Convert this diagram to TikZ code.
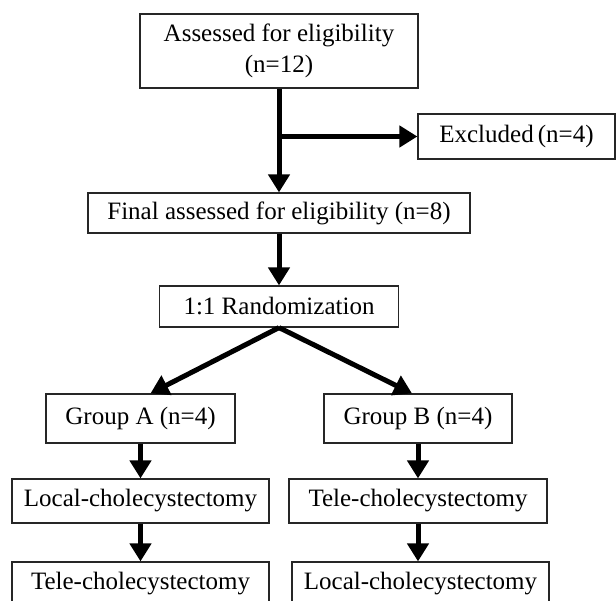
\documentclass[tikz,border=0pt]{standalone}
\usepackage{fontspec}
\setmainfont{Liberation Serif}
\usetikzlibrary{arrows.meta}
\begin{document}
\begin{tikzpicture}[x=1pt,y=-1pt]
      \tikzstyle{box}=[draw=black!85,line width=1.2pt,inner sep=0pt,align=center,font=\fontsize{25}{31}\selectfont]
      \tikzstyle{arr}=[line width=5pt,-{Triangle[length=18pt,width=21pt]}]
      \useasboundingbox (0,0) rectangle (616,601);
      \clip (0,0) rectangle (616,601);
      \node[box,minimum width=278pt,minimum height=74pt] at (279,51) (assess) {Assessed for eligibility\\(n=12)};
      \node[box,minimum width=197pt,minimum height=45pt] at (516.5,136.5) (excl) {Excluded\,(n=4)};
      \node[box,minimum width=382pt,minimum height=40pt] at (279,213) (final) {Final assessed for eligibility (n=8)};
      \node[box,minimum width=239pt,minimum height=41pt] at (279,306.5) (rand) {1:1 Randomization};
      \node[box,minimum width=189pt,minimum height=49pt] at (140.5,418.5) (grpA) {Group A (n=4)};
      \node[box,minimum width=188pt,minimum height=49pt] at (418,418.5) (grpB) {Group B (n=4)};
      \node[box,minimum width=257pt,minimum height=44pt] at (140.5,501) (localA) {Local-cholecystectomy};
      \node[box,minimum width=258pt,minimum height=44pt] at (418,501) (teleB) {Tele-cholecystectomy};
      \node[box,minimum width=257pt,minimum height=44pt] at (140.5,584) (teleA) {Tele-cholecystectomy};
      \node[box,minimum width=257pt,minimum height=44pt] at (420.5,584) (localB) {Local-cholecystectomy};
      \coordinate (split) at (279,136.5);
      \draw[arr] (assess) -- (final);
      \draw[arr] (split) -- (excl);
      \draw[arr] (final) -- (rand);
      \draw[arr] (rand.south) -- ([xshift=10pt]grpA.north);
      \draw[arr] (rand.south) -- ([xshift=-6pt]grpB.north);
      \foreach \i/\j in {grpA/localA,localA/teleA,grpB/teleB}{
        \draw[arr] (\i) -- (\j);
      }
      \draw[arr] (teleB.south) -- (teleB.south|-localB.north);
\end{tikzpicture}
\end{document}
